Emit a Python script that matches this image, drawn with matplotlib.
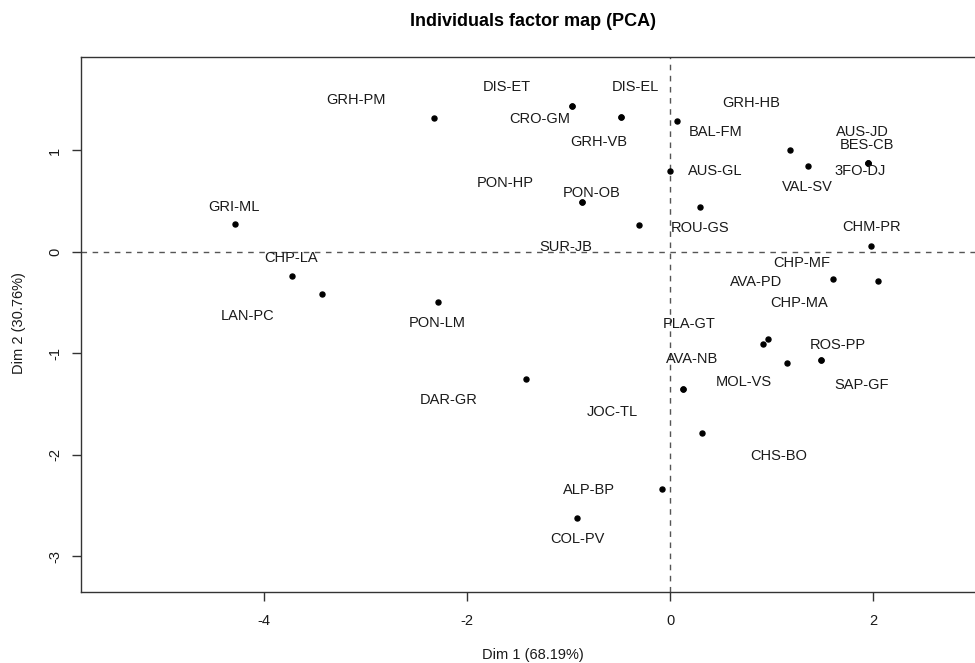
import matplotlib
matplotlib.use("Agg")
import matplotlib.pyplot as plt

plt.rcParams['font.family'] = ['Liberation Sans', 'DejaVu Sans']

# Individuals (Dim 1, Dim 2) coordinates
names = ["GRI-ML", "CHP-LA", "LAN-PC", "GRH-PM", "PON-LM", "DAR-GR",
         "DIS-ET", "CRO-GM", "DIS-EL", "GRH-VB", "BAL-FM", "GRH-HB",
         "AUS-JD", "BES-CB", "3FO-DJ", "VAL-SV", "AUS-GL", "PON-OB",
         "PON-HP", "ROU-GS", "SUR-JB", "CHM-PR", "CHP-MF", "AVA-PD",
         "CHP-MA", "PLA-GT", "ROS-PP", "SAP-GF", "MOL-VS", "AVA-NB",
         "JOC-TL", "CHS-BO", "ALP-BP", "COL-PV"]
dim1 = [-4.281, -3.722, -3.424, -2.320, -2.281, -1.417,
        -0.967, -0.967, -0.481, -0.481, 0.068, 1.184,
        1.946, 1.946, 1.946, 1.359, 0.002, -0.865,
        -0.865, 0.298, -0.303, 1.982, 2.051, 1.603,
        0.961, 0.915, 1.483, 1.483, 1.155, 0.130,
        0.130, 0.317, -0.074, -0.911]
dim2 = [0.273, -0.233, -0.417, 1.323, -0.496, -1.248,
        1.438, 1.438, 1.333, 1.333, 1.288, 1.008,
        0.880, 0.880, 0.880, 0.850, 0.795, 0.493,
        0.493, 0.443, 0.263, 0.059, -0.288, -0.269,
        -0.857, -0.903, -1.061, -1.061, -1.097, -1.350,
        -1.350, -1.780, -2.338, -2.618]
# label anchor positions (data units, after label repulsion)
lab_x = [-4.291, -3.732, -4.159, -3.092, -2.287, -2.182,
         -1.607, -1.279, -0.343, -0.698, 0.445, 0.800,
         1.897, 1.940, 1.867, 1.349, 0.445, -0.769,
         -1.624, 0.298, -1.023, 1.979, 1.293, 0.849,
         1.272, 0.192, 1.650, 1.887, 0.724, 0.219,
         -0.563, 1.069, -0.796, -0.911]
lab_y = [0.446, -0.056, -0.631, 1.498, -0.704, -1.458,
         1.623, 1.313, 1.623, 1.084, 1.182, 1.471,
         1.185, 1.054, 0.801, 0.637, 0.798, 0.578,
         0.683, 0.239, 0.046, 0.249, -0.108, -0.293,
         -0.500, -0.712, -0.913, -1.307, -1.278, -1.057,
         -1.573, -2.010, -2.345, -2.831]

xticks = [-4, -2, 0, 2]
yticks = [-3, -2, -1, 0, 1]
title = "Individuals factor map (PCA)"
xlabel = "Dim 1 (68.19%)"
ylabel = "Dim 2 (30.76%)"

W, H = 975, 663
fig = plt.figure(figsize=(W / 100, H / 100), dpi=100)
L, R, T, B = 81, 986, 57, 591.5
ax = fig.add_axes([L / W, (H - B) / H, (R - L) / W, (B - T) / H])

ax.set_xlim(-5.797, 3.110)
ax.set_ylim(-3.345, 1.921)

ax.axhline(0, color='#555555', lw=1, ls=(0, (4, 4)), zorder=1)
ax.axvline(0, color='#555555', lw=1, ls=(0, (4, 4)), zorder=1)

ax.plot(dim1, dim2, 'o', color='black', markersize=3.6, zorder=3)
for n, lx, ly in zip(names, lab_x, lab_y):
    ax.text(lx, ly, n, ha='center', va='center', fontsize=10.5,
            color='#1a1a1a', zorder=4)

ax.set_xticks(xticks)
ax.set_xticklabels([str(t) for t in xticks])
ax.set_yticks(yticks)
ax.set_yticklabels([str(t) for t in yticks], rotation=90, va='center')
ax.tick_params(axis='both', direction='out', length=6.5, width=1,
               color='#333333', labelsize=10.5, labelcolor='#1a1a1a')
ax.tick_params(axis='x', pad=9.5)
ax.tick_params(axis='y', pad=7)
for s in ax.spines.values():
    s.set_color('#333333')
    s.set_linewidth(1)

fig.text(533 / W, 1 - 22 / H, title, ha='center', va='center',
         fontsize=13, fontweight='bold', color='black')
fig.text(533 / W, 1 - 655 / H, xlabel, ha='center', va='center',
         fontsize=10.5, color='#1a1a1a')
fig.text(19 / W, 1 - 323 / H, ylabel, ha='center', va='center',
         rotation=90, fontsize=10.5, color='#1a1a1a')

fig.savefig("out.png", dpi=100)
